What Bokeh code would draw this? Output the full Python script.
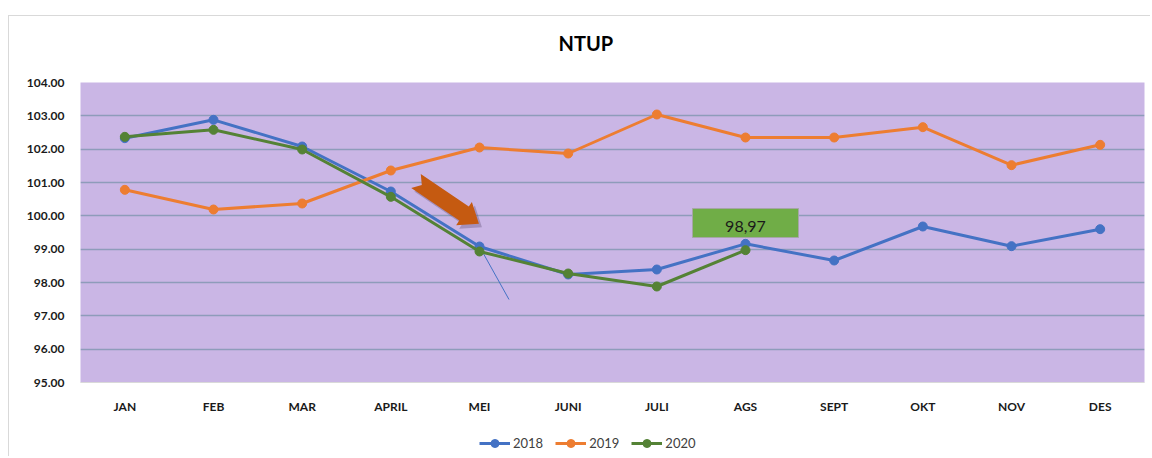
import numpy as np
from bokeh.plotting import figure
from bokeh.layouts import column
from bokeh.models import (Range1d, FixedTicker, NumeralTickFormatter, Legend,
                          LegendItem)
from bokeh.embed import file_html
from bokeh.resources import INLINE
from bokeh.core.properties import value

# ---------------- data ----------------
months = ["JAN", "FEB", "MAR", "APRIL", "MEI", "JUNI", "JULI", "AGS",
          "SEPT", "OKT", "NOV", "DES"]
y2018 = [102.33, 102.88, 102.08, 100.73, 99.08, 98.24, 98.39, 99.16,
         98.66, 99.68, 99.09, 99.60]
y2019 = [100.78, 100.19, 100.37, 101.36, 102.05, 101.87, 103.04, 102.35,
         102.35, 102.66, 101.52, 102.13]
y2020 = [102.37, 102.58, 101.99, 100.57, 98.93, 98.27, 97.88, 98.97]
series_names = ["2018", "2019", "2020"]
y_ticks = [95, 96, 97, 98, 99, 100, 101, 102, 103, 104]
callout_text = "98,97"

# ---------------- layout ----------------
W, H = 1150, 426
ML, MR, MT, MB = 80, 6, 82, 44
FW, FH = W - ML - MR, H - MT - MB
XMIN, XMAX, YMIN, YMAX = 0, len(months), 95, 104
PXX = FW / (XMAX - XMIN)   # px per x unit
PXY = FH / (YMAX - YMIN)   # px per y unit
H2 = 30

FONT = "Lato"
colors = ["#4472C4", "#ED7D31", "#548235"]
BORDER = "#D9D9D9"

p = figure(width=W, height=H, output_backend="svg", toolbar_location=None,
           x_range=Range1d(XMIN, XMAX), y_range=Range1d(YMIN, YMAX),
           min_border_left=ML, min_border_right=MR, min_border_top=MT,
           min_border_bottom=MB)
p.background_fill_color = "#CAB6E5"
p.border_fill_alpha = 0
p.outline_line_color = None

# title
p.title.text = "NTUP"
p.title.align = "left"
p.title.offset = 478
p.title.standoff = 55
p.title.text_font = FONT
p.title.text_font_size = "20px"
p.title.text_font_style = "bold"
p.title.text_color = "#000000"

# axes
xs = [i + 0.5 for i in range(len(months))]
p.xaxis.ticker = FixedTicker(ticks=xs)
p.xaxis.major_label_overrides = {x: m for x, m in zip(xs, months)}
p.xaxis.major_tick_line_color = None
p.xaxis.minor_tick_line_color = None
p.xaxis.axis_line_color = BORDER
p.xaxis.major_label_standoff = 10
p.xaxis.major_label_text_font = FONT
p.xaxis.major_label_text_font_size = "12px"
p.xaxis.major_label_text_font_style = "bold"
p.xaxis.major_label_text_color = "#1a1a1a"

p.yaxis.ticker = FixedTicker(ticks=y_ticks)
p.yaxis.formatter = NumeralTickFormatter(format="0.00")
p.yaxis.major_tick_line_color = None
p.yaxis.minor_tick_line_color = None
p.yaxis.axis_line_color = None
p.yaxis.major_label_standoff = 10
p.yaxis.major_label_text_font = FONT
p.yaxis.major_label_text_font_size = "12px"
p.yaxis.major_label_text_font_style = "bold"
p.yaxis.major_label_text_color = "#1a1a1a"

p.xgrid.grid_line_color = None
p.ygrid.ticker = FixedTicker(ticks=y_ticks[1:])
p.ygrid.grid_line_color = "#8E9CBA"
p.ygrid.grid_line_width = 1.3

# ---------------- arrow annotation (pixel shape near MEI) ----------------
def px2data(px, py):
    return (px - ML) / PXX, YMAX - (py - MT) / PXY

S = np.array([415.5, 180.5])  # tail center in canvas px
u = np.array([0.828, 0.561])
n = np.array([-0.561, 0.828])
pts = [S - 8.5 * n, S + 58 * u - 8.5 * n, S + 58 * u - 14 * n, S + 76 * u,
       S + 58 * u + 14 * n, S + 58 * u + 8.5 * n, S + 8.5 * n, S + 7 * u]
ax, ay = zip(*[px2data(*pt) for pt in pts])
sx, sy = zip(*[px2data(pt[0] + 3, pt[1] + 3.5) for pt in pts])
p.patch(list(sx), list(sy), fill_color="#5B4A70", fill_alpha=0.35, line_color=None)
p.patch(list(ax), list(ay), fill_color="#C55A11", line_color=None)

# thin stray line from MEI 2018 point
mei = months.index("MEI")
p.line([xs[mei], xs[mei] + 29.5 / PXX], [y2018[mei], y2018[mei] - 53 / PXY],
       line_color="#4472C4", line_width=1)

# ---------------- series ----------------
all_series = [y2018, y2019, y2020]
for name, ys, c in zip(series_names, all_series, colors):
    xx = xs[:len(ys)]
    p.line(xx, ys, line_color=c, line_width=3)
    p.scatter(xx, ys, size=9, fill_color=c, line_color=c)

# callout box for last 2020 value
ags = months.index("AGS")
p.rect(x=[xs[ags]], y=[y2020[ags] + 0.815], width=106, height=29,
       width_units="screen", height_units="screen",
       fill_color="#70AD47", line_color="#A5A5A5", line_width=1)
p.text(x=[xs[ags]], y=[y2020[ags] + 0.725], text=[callout_text],
       text_align="center", text_baseline="middle",
       text_font=value(FONT), text_font_size="16px", text_color="#1a1a1a")

# ---------------- legend strip ----------------
q = figure(width=W, height=H2, output_backend="svg", toolbar_location=None,
           x_range=Range1d(XMIN, XMAX), y_range=Range1d(0, 1),
           x_axis_location=None, y_axis_location=None, min_border=0)
q.outline_line_color = None
q.grid.grid_line_color = None
q.background_fill_alpha = 0
q.border_fill_alpha = 0
items = []
for name, ys, c in zip(series_names, all_series, colors):
    xx = xs[:len(ys)]
    # same series drawn in the strip but outside its visible y-range: only the legend shows
    l = q.line(xx, ys, line_color=c, line_width=3)
    s = q.scatter(xx, ys, size=9, fill_color=c, line_color=c)
    items.append(LegendItem(label=name, renderers=[l, s]))
legend = Legend(items=items, orientation="horizontal", location=(399, 3),
                glyph_width=31, glyph_height=20, label_standoff=3, spacing=12,
                padding=0, margin=0, border_line_color=None,
                background_fill_alpha=0, label_text_font=FONT,
                label_text_font_size="13px", label_text_color="#404040")
q.add_layout(legend, "center")

# outer chart border (top + left) painted behind transparent canvases
border_styles = {
    "background-color": "white",
    "background-image": f"linear-gradient({BORDER},{BORDER}), linear-gradient({BORDER},{BORDER})",
    "background-position": "8px 15px, 8px 15px",
    "background-size": "1px 100%, 100% 1px",
    "background-repeat": "no-repeat",
}
layout = column(p, q, spacing=0, styles=border_styles)

open("out.html", "w").write(file_html(layout, INLINE))
